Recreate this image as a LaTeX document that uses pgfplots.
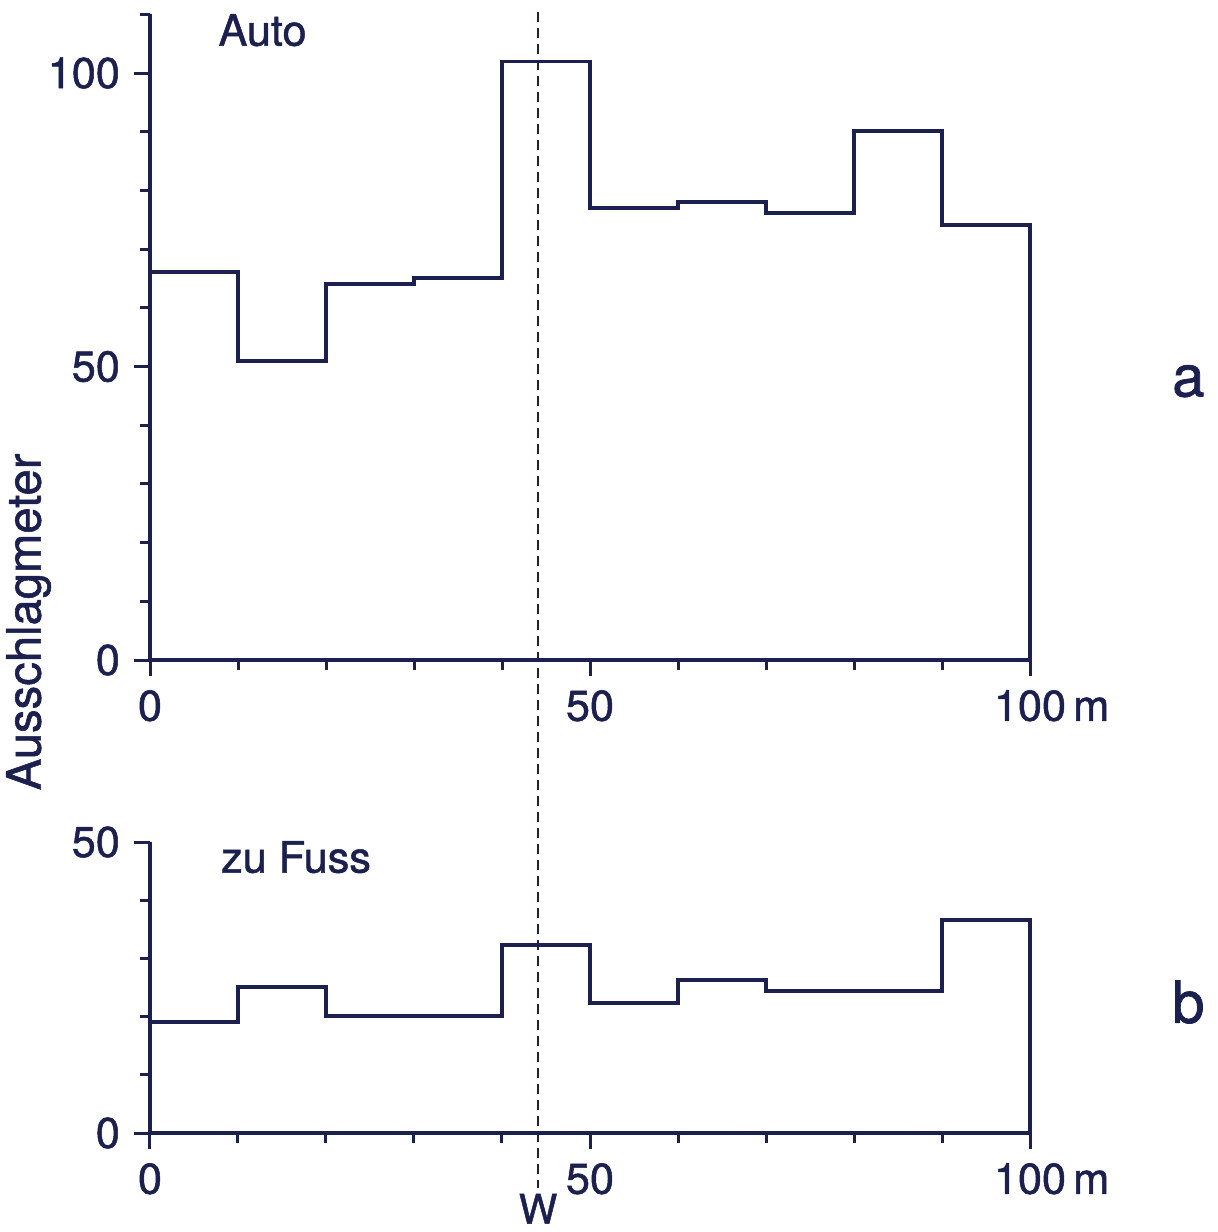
\documentclass[border=0pt]{standalone}
\usepackage{pgfplots}
\pgfplotsset{compat=1.18}
\usepackage{fontspec}
\setmainfont{TeX Gyre Heros}[FakeBold=1.2]
\definecolor{ink}{RGB}{28,32,78}
\tikzset{lbl/.style={text=ink, inner sep=0pt, font=\fontsize{10.8}{13}\selectfont}}

\begin{document}
\begin{tikzpicture}
\useasboundingbox (-37.5pt,-143pt) rectangle (267pt,165pt);
\pgfplotsset{
  every axis/.append style={
    scale only axis, width=220pt,
    xmin=0, xmax=100,
    axis x line*=bottom, axis y line*=left,
    axis line style={ink, line width=0.85pt, -},
    tick style={ink, line width=0.75pt},
    tick align=outside,
    major tick length=4pt, minor tick length=2.5pt,
    xtick={0,50,100}, minor xtick={10,20,30,40,60,70,80,90},
    xticklabels={0,50,100\rlap{\,m}},
    ticklabel style={font=\fontsize{10.8}{13}\selectfont, text=ink},
    /pgf/number format/assume math mode=true,
    clip=false,
  },
  step/.style={ink, line width=0.9pt, const plot mark left, mark=none},
}
\begin{axis}[at={(0pt,0pt)}, anchor=south west, height=161.4pt,
  ymin=0, ymax=110, ytick={0,50,100}, minor ytick={10,20,30,40,60,70,80,90,110}]
\addplot[step] coordinates {(0,66.1) (10,50.9) (20,64.1) (30,65.1) (40,102) (50,77) (60,78) (70,76.2) (80,90.1) (90,74.1) (100,74.1) (100,0)};
\node[lbl, anchor=west] at (axis cs:7.7,107.3) {Auto};
\node[lbl, font=\fontsize{14.5}{17}\selectfont] at (axis cs:118.0,47.5) {a};
\node[lbl, rotate=90, font=\fontsize{11.8}{14}\selectfont] at (axis cs:-13.8,6.5) {Ausschlagmeter};
\coordinate (wt) at (axis cs:44.1,110.4);
\end{axis}
\begin{axis}[at={(0pt,-118.25pt)}, anchor=south west, height=72.75pt,
  ymin=0, ymax=50, ytick={0,50}, minor ytick={10,20,30,40}]
\addplot[step] coordinates {(0,19.1) (10,25.1) (20,20.1) (30,20.1) (40,32.3) (50,22.3) (60,26.3) (70,24.4) (80,24.4) (90,36.6) (100,36.6) (100,0)};
\node[lbl, anchor=west] at (axis cs:8,47.4) {zu Fuss};
\node[lbl, font=\fontsize{14.5}{17}\selectfont] at (axis cs:118.0,22.5) {b};
\node[lbl, font=\fontsize{10.2}{12}\selectfont] at (axis cs:44.1,-13.0) {W};
\coordinate (wb) at (axis cs:44.1,-9.4);
\end{axis}
\draw[ink, line width=0.55pt, dash pattern=on 2.5pt off 1.5pt] (wt) -- (wb);
\end{tikzpicture}
\end{document}
